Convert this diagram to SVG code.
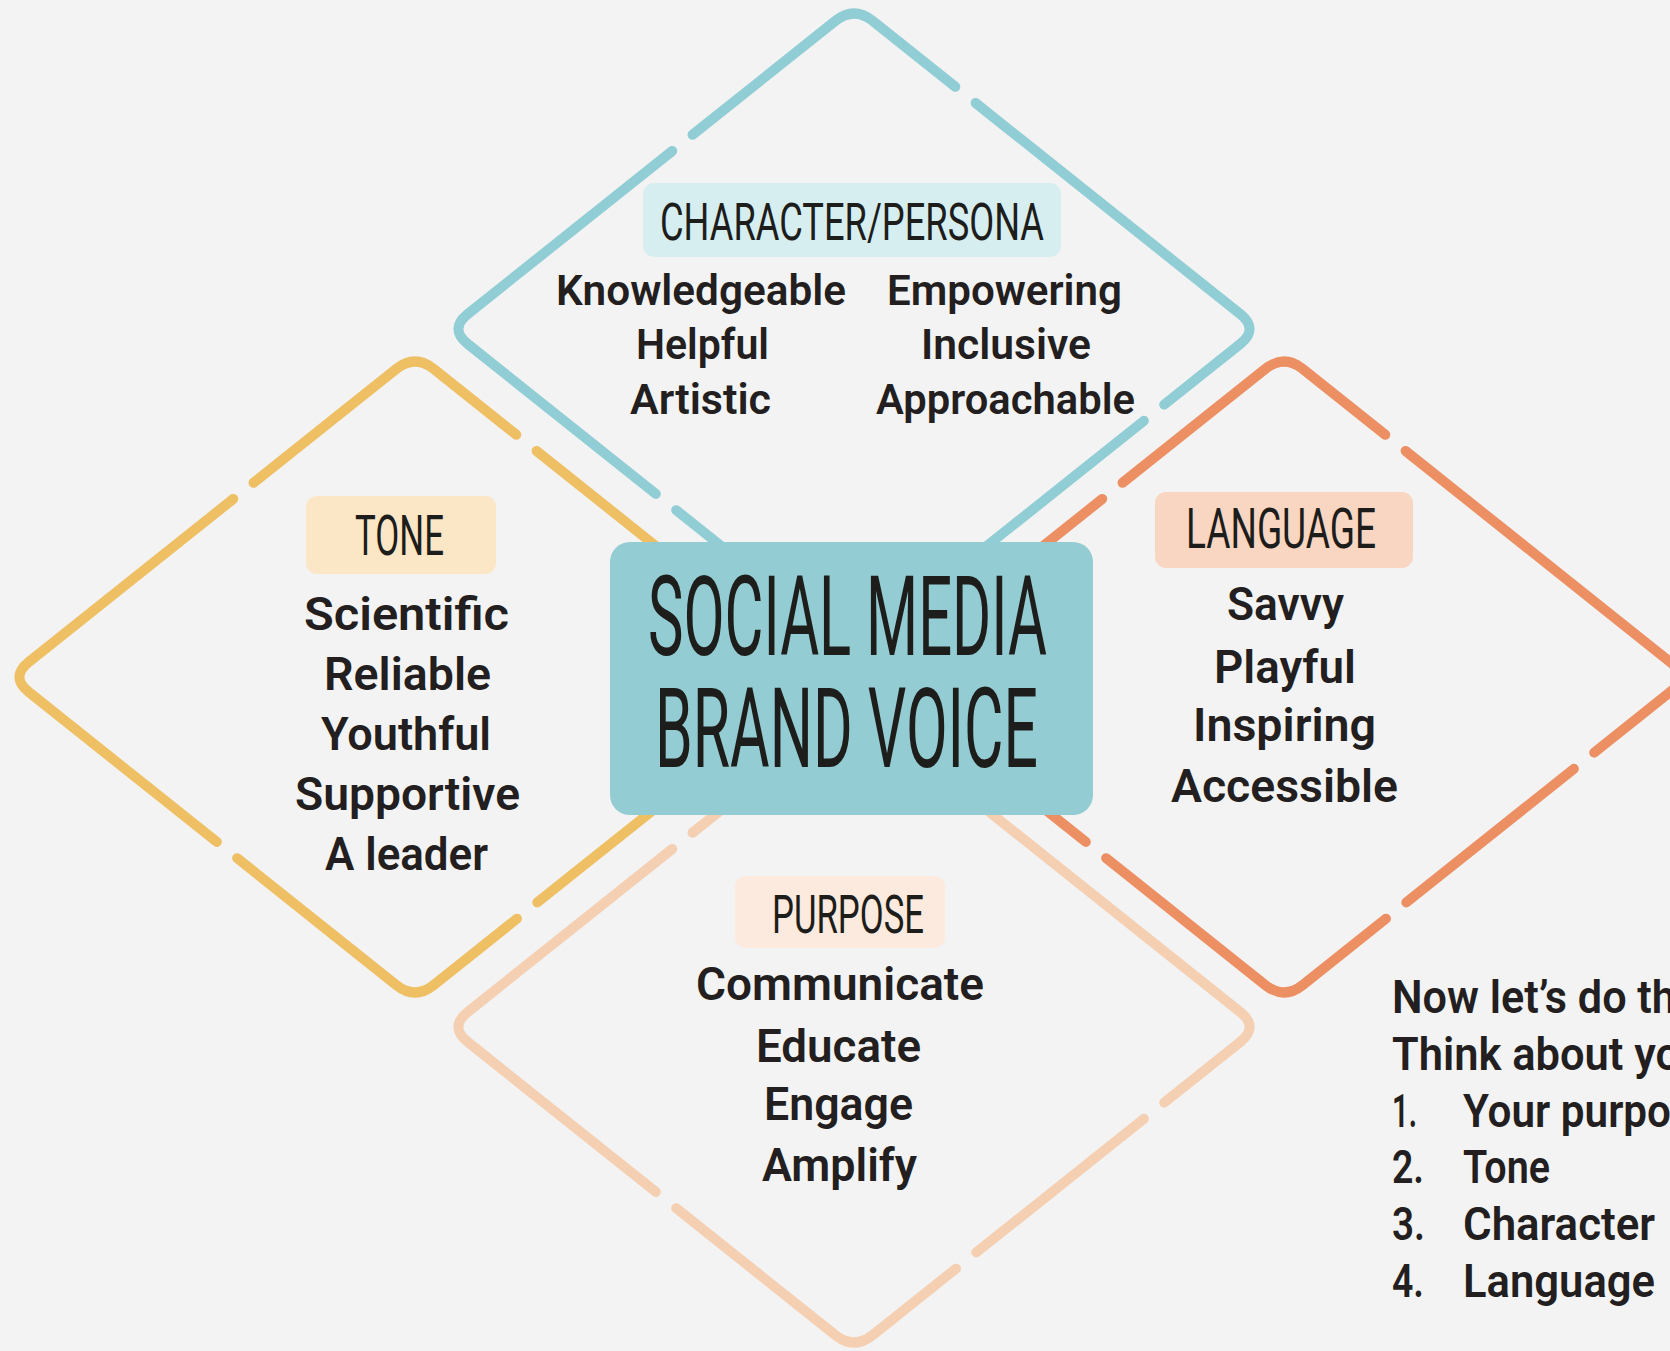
<svg xmlns="http://www.w3.org/2000/svg" xmlns:xlink="http://www.w3.org/1999/xlink" width="1670" height="1351" viewBox="0 0 1670 1351">
<style>
.dia{fill:none;stroke-width:10;stroke-linecap:round;stroke-linejoin:round;stroke-dasharray:105.5 26 472.2 26 214.3 26 350.9 26 538.5 26 223 10}
.lbl{font-family:Roboto,"Liberation Sans",sans-serif;font-weight:400;fill:#1d1d1b}
.item{font-family:Roboto,"Liberation Sans",sans-serif;font-weight:600;fill:#231f20;font-size:46px}
.sm{font-size:42px}
</style>
<defs>
<path id="dpath" d="M18.8,-308 L386.2,-15 Q405,0 386.2,15 L18.8,308 Q0,323 -18.8,308 L-386.2,15 Q-405,0 -386.2,-15 L-18.8,-308 Q0,-323 18.8,-308 Z"/>
</defs>
<rect x="0" y="0" width="1670" height="1351" fill="#f3f3f3"/>
<g id="connectors"/>
<g id="character">
<use xlink:href="#dpath" href="#dpath" class="dia" stroke="#90cdd4" transform="translate(854,329)"/>
<rect x="643" y="183" width="418" height="74" rx="11" fill="#d7eef0"/>
<text class="lbl" x="660" y="240" font-size="52" textLength="384" lengthAdjust="spacingAndGlyphs">CHARACTER/PERSONA</text>
<text class="item sm" x="556" y="305" textLength="290" lengthAdjust="spacingAndGlyphs">Knowledgeable</text>
<text class="item sm" x="636" y="359" textLength="133" lengthAdjust="spacingAndGlyphs">Helpful</text>
<text class="item sm" x="630" y="414" textLength="141" lengthAdjust="spacingAndGlyphs">Artistic</text>
<text class="item sm" x="887" y="305" textLength="235" lengthAdjust="spacingAndGlyphs">Empowering</text>
<text class="item sm" x="921" y="359" textLength="170" lengthAdjust="spacingAndGlyphs">Inclusive</text>
<text class="item sm" x="876" y="414" textLength="259" lengthAdjust="spacingAndGlyphs">Approachable</text>
</g>
<g id="tone">
<use xlink:href="#dpath" href="#dpath" class="dia" stroke="#eebf63" transform="translate(415,677)"/>
<rect x="306" y="496" width="190" height="78" rx="11" fill="#fbe7c6"/>
<text class="lbl" x="355" y="555" font-size="55" textLength="89" lengthAdjust="spacingAndGlyphs">TONE</text>
<text class="item" x="304" y="630" textLength="205" lengthAdjust="spacingAndGlyphs">Scientific</text>
<text class="item" x="324" y="690" textLength="167" lengthAdjust="spacingAndGlyphs">Reliable</text>
<text class="item" x="321" y="750" textLength="170" lengthAdjust="spacingAndGlyphs">Youthful</text>
<text class="item" x="295" y="810" textLength="225" lengthAdjust="spacingAndGlyphs">Supportive</text>
<text class="item" x="325" y="870" textLength="163" lengthAdjust="spacingAndGlyphs">A leader</text>
</g>
<g id="language">
<use xlink:href="#dpath" href="#dpath" class="dia" stroke="#ec8f63" transform="translate(1284,677)"/>
<rect x="1155" y="492" width="258" height="76" rx="11" fill="#f9d6c2"/>
<text class="lbl" x="1186" y="548" font-size="55" textLength="190" lengthAdjust="spacingAndGlyphs">LANGUAGE</text>
<text class="item" x="1227" y="620" textLength="117" lengthAdjust="spacingAndGlyphs">Savvy</text>
<text class="item" x="1214" y="683" textLength="142" lengthAdjust="spacingAndGlyphs">Playful</text>
<text class="item" x="1193" y="741" textLength="183" lengthAdjust="spacingAndGlyphs">Inspiring</text>
<text class="item" x="1171" y="802" textLength="227" lengthAdjust="spacingAndGlyphs">Accessible</text>
</g>
<g id="purpose">
<use xlink:href="#dpath" href="#dpath" class="dia" stroke="#f4cfb2" transform="translate(854,1027)"/>
<rect x="735" y="876" width="210" height="72" rx="11" fill="#fbeadd"/>
<text class="lbl" x="772" y="933" font-size="53" textLength="152" lengthAdjust="spacingAndGlyphs">PURPOSE</text>
<text class="item" x="696" y="1000" textLength="288" lengthAdjust="spacingAndGlyphs">Communicate</text>
<text class="item" x="756" y="1062" textLength="165" lengthAdjust="spacingAndGlyphs">Educate</text>
<text class="item" x="764" y="1120" textLength="149" lengthAdjust="spacingAndGlyphs">Engage</text>
<text class="item" x="762" y="1181" textLength="155" lengthAdjust="spacingAndGlyphs">Amplify</text>
</g>
<g id="brand-voice">
<rect x="610" y="542" width="483" height="273" rx="20" fill="#93cdd3"/>
<text class="lbl" x="648" y="655" font-size="112" textLength="399" lengthAdjust="spacingAndGlyphs">SOCIAL MEDIA</text>
<text class="lbl" x="655" y="767" font-size="112" textLength="383" lengthAdjust="spacingAndGlyphs">BRAND VOICE</text>
</g>
<g id="prompt">
<text class="item" x="1392" y="1013" textLength="284" lengthAdjust="spacingAndGlyphs">Now let’s do th</text>
<text class="item" x="1392" y="1070" textLength="288" lengthAdjust="spacingAndGlyphs">Think about yo</text>
<text class="item" x="1392" y="1127" textLength="25" lengthAdjust="spacingAndGlyphs">1.</text>
<text class="item" x="1463" y="1127" textLength="208" lengthAdjust="spacingAndGlyphs">Your purpo</text>
<text class="item" x="1392" y="1183" textLength="32" lengthAdjust="spacingAndGlyphs">2.</text>
<text class="item" x="1463" y="1183" textLength="87" lengthAdjust="spacingAndGlyphs">Tone</text>
<text class="item" x="1392" y="1240" textLength="33" lengthAdjust="spacingAndGlyphs">3.</text>
<text class="item" x="1463" y="1240" textLength="192" lengthAdjust="spacingAndGlyphs">Character</text>
<text class="item" x="1392" y="1297" textLength="32" lengthAdjust="spacingAndGlyphs">4.</text>
<text class="item" x="1463" y="1297" textLength="192" lengthAdjust="spacingAndGlyphs">Language</text>
</g>
</svg>
